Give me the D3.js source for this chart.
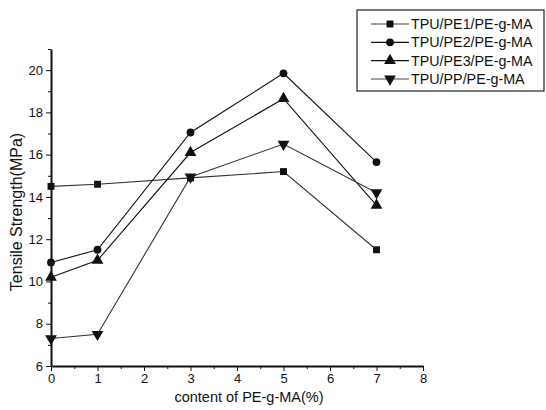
<!DOCTYPE html>
<html lang="en">
<head>
<meta charset="UTF-8">
<title>Tensile Strength</title>
<script src="https://cdn.jsdelivr.net/npm/d3@7"></script>
<style>
    body { margin: 0; background: #fff; }
    svg text { font-family: "Liberation Sans", Arial, sans-serif; fill: #111; }
    .axis path, .axis line { stroke: #111; }
</style>
</head>
<body>
<svg id="chart" width="546" height="410"></svg>
<script>
    // data
    let xs = [0, 1, 3, 5, 7];
    let seriesNames = ['TPU/PE1/PE-g-MA', 'TPU/PE2/PE-g-MA', 'TPU/PE3/PE-g-MA', 'TPU/PP/PE-g-MA'];
    let pe1 = [14.5, 14.6, 14.9, 15.2, 11.5];
    let pe2 = [10.9, 11.5, 17.05, 19.85, 15.65];
    let pe3 = [10.2, 11.0, 16.1, 18.65, 13.6];
    let pp = [7.3, 7.5, 14.95, 16.5, 14.2];
    let xTicks = [0, 1, 2, 3, 4, 5, 6, 7, 8];
    let yTicks = [6, 8, 10, 12, 14, 16, 18, 20];

    let allSeries = [pe1, pe2, pe3, pp];
    let symbols = [d3.symbolSquare, d3.symbolCircle, d3.symbolTriangle, d3.symbolTriangle];
    let symSizes = [48, 48, 60, 60];
    let rotations = [0, 0, 0, 180];

    let svg = d3.select('#chart');
    let pLeft = 51, pRight = 423, pTop = 49, pBottom = 366;

    let x = d3.scaleLinear().domain([0, 8]).range([pLeft, pRight]);
    let y = d3.scaleLinear().domain([6, 21]).range([pBottom, pTop]);

    // minor ticks
    svg.append('g')
        .attr('class', 'axis')
        .attr('transform', 'translate(0,' + pBottom + ')')
        .call(d3.axisBottom(x).tickValues(d3.range(0.5, 8, 1)).tickSize(3).tickFormat(''))
        .select('.domain').remove();
    svg.append('g')
        .attr('class', 'axis')
        .attr('transform', 'translate(' + pLeft + ',0)')
        .call(d3.axisLeft(y).tickValues(d3.range(7, 22, 2)).tickSize(3).tickFormat(''))
        .select('.domain').remove();

    let xAxis = svg.append('g')
        .attr('class', 'axis')
        .attr('transform', 'translate(0,' + pBottom + ')')
        .call(d3.axisBottom(x).tickValues(xTicks).tickSize(5).tickSizeOuter(0));
    xAxis.selectAll('text').attr('font-size', 13);
    xAxis.select('.domain').attr('stroke-width', 2);

    let yAxis = svg.append('g')
        .attr('class', 'axis')
        .attr('transform', 'translate(' + pLeft + ',0)')
        .call(d3.axisLeft(y).tickValues(yTicks).tickSize(5).tickSizeOuter(0));
    yAxis.selectAll('text').attr('font-size', 13);
    yAxis.select('.domain').attr('stroke-width', 2);

    let line = d3.line()
        .x((d, i) => x(xs[i]))
        .y(d => y(d));

    allSeries.forEach((s, k) => {
        svg.append('path')
            .datum(s)
            .attr('fill', 'none')
            .attr('stroke', k === 0 || k === 3 ? '#333' : '#111')
            .attr('stroke-width', 1.1)
            .attr('d', line);

        svg.selectAll('.m' + k)
            .data(s)
            .enter().append('path')
            .attr('class', 'm' + k)
            .attr('d', d3.symbol().type(symbols[k]).size(symSizes[k]))
            .attr('fill', '#111')
            .attr('transform', (d, i) => 'translate(' + x(xs[i]) + ',' + y(d) + ') rotate(' + rotations[k] + ')');
    });

    // axis titles
    svg.append('text')
        .attr('x', 249).attr('y', 402)
        .attr('text-anchor', 'middle')
        .attr('font-size', 14.5)
        .text('content of PE-g-MA(%)');
    svg.append('text')
        .attr('transform', 'translate(22,212) rotate(-90)')
        .attr('text-anchor', 'middle')
        .attr('font-size', 16)
        .text('Tensile Strength(MPa)');

    // legend
    let legend = svg.append('g');
    legend.append('rect')
        .attr('x', 357).attr('y', 10)
        .attr('width', 187).attr('height', 81)
        .attr('fill', 'white').attr('stroke', '#222').attr('stroke-width', 1.2);

    let rowY = d3.scalePoint().domain(seriesNames).range([24, 79]);
    seriesNames.forEach((name, k) => {
        let yy = rowY(name);
        legend.append('line')
            .attr('x1', 371).attr('x2', 409)
            .attr('y1', yy).attr('y2', yy)
            .attr('stroke', k === 0 || k === 3 ? '#444' : '#111')
            .attr('stroke-width', 1.1);
        legend.append('path')
            .attr('d', d3.symbol().type(symbols[k]).size(symSizes[k]))
            .attr('fill', '#111')
            .attr('transform', 'translate(390,' + yy + ') rotate(' + rotations[k] + ')');
        legend.append('text')
            .attr('x', 411).attr('y', yy)
            .attr('dy', '0.35em')
            .attr('font-size', 14.3)
            .text(name);
    });
</script>
</body>
</html>
